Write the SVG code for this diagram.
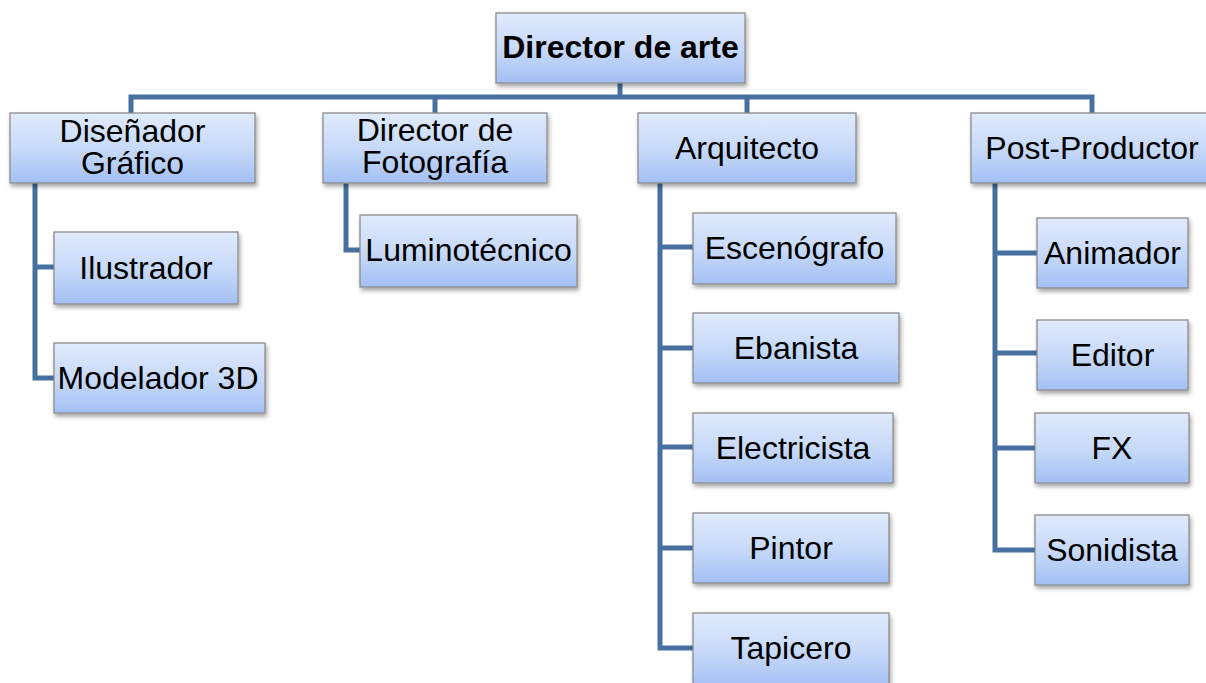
<svg xmlns="http://www.w3.org/2000/svg" width="1206" height="683" viewBox="0 0 1206 683">
<defs>
<linearGradient id="g" x1="0" y1="0" x2="0" y2="1">
<stop offset="0" stop-color="#e0eafc"/>
<stop offset="0.5" stop-color="#c8daf9"/>
<stop offset="1" stop-color="#a3c0f4"/>
</linearGradient>
<filter id="sh" x="-10%" y="-10%" width="130%" height="140%">
<feDropShadow dx="1.5" dy="3" stdDeviation="2" flood-color="#000" flood-opacity="0.35"/>
</filter>
</defs>
<style>
.box{fill:url(#g);stroke:#8c8c8c;stroke-width:1.3;filter:url(#sh)}
.t{font-family:"Liberation Sans",Arial,sans-serif;font-size:32px;fill:#000;text-anchor:middle}
.b{font-weight:bold}
.c{fill:none;stroke:#46709f;stroke-width:5;stroke-linejoin:miter;stroke-linecap:butt}
</style>
<rect width="1206" height="683" fill="#fff"/>
<g id="connectors">
<path class="c" d="M620 83 V97"/>
<path class="c" d="M131 113 V97 H1092 V113"/>
<path class="c" d="M435 97 V113"/>
<path class="c" d="M747 97 V113"/>
<path class="c" d="M35 183 V378 H54"/>
<path class="c" d="M35 267 H54"/>
<path class="c" d="M346 183 V250 H360"/>
<path class="c" d="M660 183 V648 H693"/>
<path class="c" d="M660 247 H693"/>
<path class="c" d="M660 348 H693"/>
<path class="c" d="M660 447 H693"/>
<path class="c" d="M660 548 H693"/>
<path class="c" d="M995 183 V550 H1036"/>
<path class="c" d="M995 253 H1037"/>
<path class="c" d="M995 353 H1037"/>
<path class="c" d="M995 448 H1036"/>
</g>
<g id="root"><rect class="box" x="496" y="13" width="249" height="70"/><text class="t b" x="620.5" y="58">Director de arte</text></g>
<g id="disenador"><rect class="box" x="10" y="113" width="245" height="70"/><text class="t" x="132.5" y="142">Diseñador</text><text class="t" x="132.5" y="174">Gráfico</text></g>
<g id="dirfoto"><rect class="box" x="323" y="113" width="224" height="70"/><text class="t" x="435" y="141">Director de</text><text class="t" x="435" y="173">Fotografía</text></g>
<g id="arquitecto"><rect class="box" x="638" y="113" width="218" height="70"/><text class="t" x="747" y="159">Arquitecto</text></g>
<g id="postproductor"><rect class="box" x="971" y="113" width="242" height="70"/><text class="t" x="1092" y="159">Post-Productor</text></g>
<g id="ilustrador"><rect class="box" x="54" y="232" width="184" height="72"/><text class="t" x="146" y="279">Ilustrador</text></g>
<g id="modelador"><rect class="box" x="54" y="343" width="211" height="70"/><text class="t" x="158" y="389">Modelador 3D</text></g>
<g id="luminotecnico"><rect class="box" x="360" y="215" width="217" height="72"/><text class="t" x="468.5" y="261">Luminotécnico</text></g>
<g id="escenografo"><rect class="box" x="693" y="213" width="203" height="71"/><text class="t" x="794.5" y="259">Escenógrafo</text></g>
<g id="ebanista"><rect class="box" x="693" y="313" width="206" height="70"/><text class="t" x="796" y="359">Ebanista</text></g>
<g id="electricista"><rect class="box" x="693" y="413" width="200" height="70"/><text class="t" x="793" y="459">Electricista</text></g>
<g id="pintor"><rect class="box" x="693" y="513" width="196" height="70"/><text class="t" x="791" y="559">Pintor</text></g>
<g id="tapicero"><rect class="box" x="693" y="613" width="196" height="75"/><text class="t" x="791" y="659">Tapicero</text></g>
<g id="animador"><rect class="box" x="1037" y="218" width="151" height="70"/><text class="t" x="1112.5" y="264">Animador</text></g>
<g id="editor"><rect class="box" x="1037" y="320" width="151" height="70"/><text class="t" x="1112.5" y="366">Editor</text></g>
<g id="fx"><rect class="box" x="1035" y="413" width="154" height="70"/><text class="t" x="1112" y="459">FX</text></g>
<g id="sonidista"><rect class="box" x="1035" y="515" width="154" height="70"/><text class="t" x="1112" y="561">Sonidista</text></g>
</svg>
